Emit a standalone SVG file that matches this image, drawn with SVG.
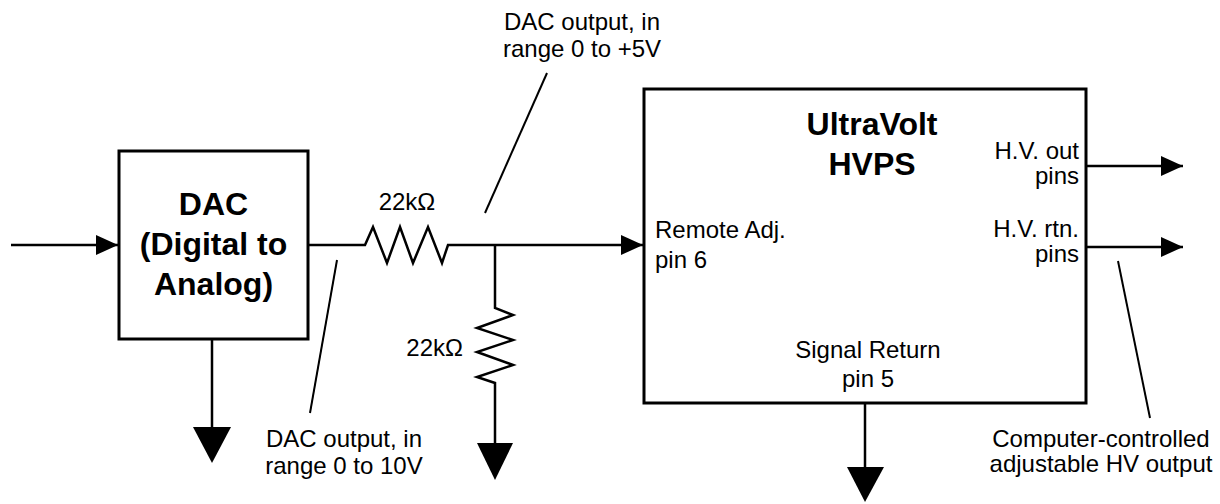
<svg xmlns="http://www.w3.org/2000/svg" width="1220" height="504" viewBox="0 0 1220 504">
<style>
.box{fill:#fff;stroke:#000;stroke-width:3}
.w{fill:none;stroke:#000;stroke-width:2.5;stroke-linejoin:miter}
.ld{fill:none;stroke:#000;stroke-width:2}
.gnd{fill:#000;stroke:none}
.t{font-family:"Liberation Sans",Arial,sans-serif;font-size:24px;fill:#000}
.b{font-family:"Liberation Sans",Arial,sans-serif;font-size:32px;font-weight:bold;fill:#000}
</style>
<defs>
<marker id="ah" viewBox="0 0 22 20" refX="22" refY="10" markerWidth="22" markerHeight="20" markerUnits="userSpaceOnUse" orient="auto">
<path d="M0,0 L22,10 L0,20 Z" fill="#000"/>
</marker>
</defs>
<g id="connectors">
<line class="w" x1="11" y1="245" x2="118" y2="245" marker-end="url(#ah)"/>
<polyline class="w" points="308,245 365,245 373,227 387,263 400,227 413,263 428,227 442,263 448,245 495,245"/>
<line class="w" x1="495" y1="245" x2="643" y2="245" marker-end="url(#ah)"/>
<polyline class="w" points="495,245 495,308 513,315 477,328 513,340 477,352 513,365 477,377 495,383 495,443"/>
<path class="gnd" d="M477,443 L513,443 L495,480 Z"/>
<line class="w" x1="212" y1="339" x2="212" y2="427"/>
<path class="gnd" d="M193,427 L231,427 L212,463 Z"/>
<line class="w" x1="865" y1="403" x2="865" y2="467"/>
<path class="gnd" d="M847,467 L884,467 L865,502 Z"/>
<line class="w" x1="1086" y1="166" x2="1183" y2="166" marker-end="url(#ah)"/>
<line class="w" x1="1086" y1="247" x2="1183" y2="247" marker-end="url(#ah)"/>
<line class="ld" x1="547" y1="73" x2="485" y2="213"/>
<line class="ld" x1="337" y1="260" x2="310" y2="413"/>
<line class="ld" x1="1118" y1="261" x2="1150" y2="418"/>
</g>
<g id="dac">
<rect class="box" x="119" y="151" width="189" height="188"/>
<text class="b" x="213.5" y="215" text-anchor="middle">DAC</text>
<text class="b" x="213.5" y="255" text-anchor="middle">(Digital to</text>
<text class="b" x="213.5" y="295" text-anchor="middle">Analog)</text>
</g>
<g id="hvps">
<rect class="box" x="644" y="89" width="442" height="314"/>
<text class="b" x="872" y="135" text-anchor="middle">UltraVolt</text>
<text class="b" x="872" y="175" text-anchor="middle">HVPS</text>
<text class="t" x="655" y="238">Remote Adj.</text>
<text class="t" x="655" y="268">pin 6</text>
<text class="t" x="1079" y="159" text-anchor="end">H.V. out</text>
<text class="t" x="1079" y="184" text-anchor="end">pins</text>
<text class="t" x="1079" y="237" text-anchor="end">H.V. rtn.</text>
<text class="t" x="1079" y="262" text-anchor="end">pins</text>
<text class="t" x="868" y="358" text-anchor="middle">Signal Return</text>
<text class="t" x="868" y="387" text-anchor="middle">pin 5</text>
</g>
<g id="labels">
<text class="t" x="407" y="210" text-anchor="middle">22kΩ</text>
<text class="t" x="463" y="356" text-anchor="end">22kΩ</text>
<text class="t" x="582" y="30" text-anchor="middle">DAC output, in</text>
<text class="t" x="582" y="57" text-anchor="middle">range 0 to +5V</text>
<text class="t" x="344" y="447" text-anchor="middle">DAC output, in</text>
<text class="t" x="344" y="474" text-anchor="middle">range 0 to 10V</text>
<text class="t" x="1101" y="447" text-anchor="middle">Computer-controlled</text>
<text class="t" x="1101" y="472" text-anchor="middle">adjustable HV output</text>
</g>
</svg>
